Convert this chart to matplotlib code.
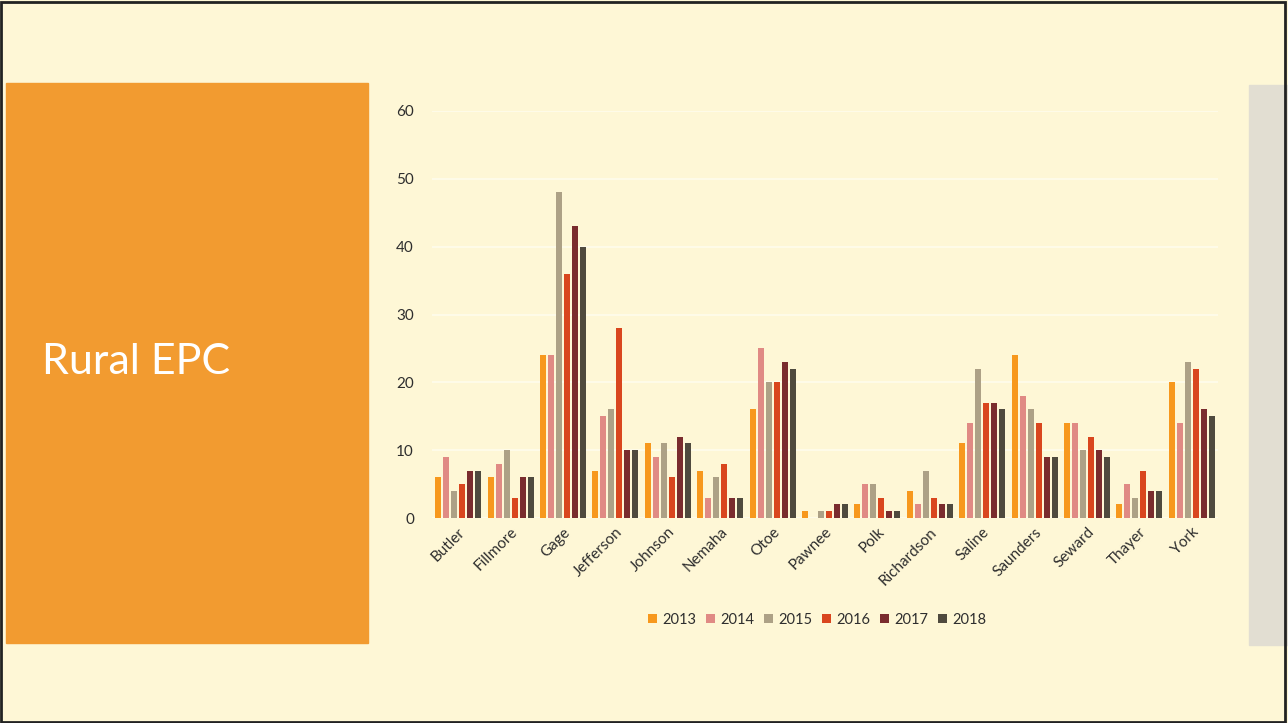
import matplotlib.pyplot as plt
import numpy as np
from matplotlib.patches import Rectangle

counties = ["Butler", "Fillmore", "Gage", "Jefferson", "Johnson", "Nemaha", "Otoe",
            "Pawnee", "Polk", "Richardson", "Saline", "Saunders", "Seward", "Thayer", "York"]
years = ["2013", "2014", "2015", "2016", "2017", "2018"]

v2013 = [6, 6, 24, 7, 11, 7, 16, 1, 2, 4, 11, 24, 14, 2, 20]
v2014 = [9, 8, 24, 15, 9, 3, 25, 0, 5, 2, 14, 18, 14, 5, 14]
v2015 = [4, 10, 48, 16, 11, 6, 20, 1, 5, 7, 22, 16, 10, 3, 23]
v2016 = [5, 3, 36, 28, 6, 8, 20, 1, 3, 3, 17, 14, 12, 7, 22]
v2017 = [7, 6, 43, 10, 12, 3, 23, 2, 1, 2, 17, 9, 10, 4, 16]
v2018 = [7, 6, 40, 10, 11, 3, 22, 2, 1, 2, 16, 9, 9, 4, 15]
series = [v2013, v2014, v2015, v2016, v2017, v2018]

colors = ["#F7981D", "#E08A84", "#ADA186", "#D9461E", "#7A2C2E", "#4F4A3E"]
bg = "#FEF7D6"

plt.rcParams['font.family'] = ['Lato', 'DejaVu Sans']

fig = plt.figure(figsize=(12.88, 7.23), dpi=100)
fig.patch.set_facecolor(bg)

# slide decorations
fig.patches.append(Rectangle((6 / 1288, 1 - 643 / 723), 362 / 1288, 560 / 723,
                             transform=fig.transFigure, color="#F29B30", zorder=0))
fig.patches.append(Rectangle((1249 / 1288, 1 - 645 / 723), 39 / 1288, 560 / 723,
                             transform=fig.transFigure, color="#E2DED2", zorder=0))
fig.patches.append(Rectangle((0.001, 0.002), 0.997, 0.995, transform=fig.transFigure,
                             fill=False, edgecolor="#222222", lw=2, zorder=5))
fig.text(42 / 1288, 1 - 362 / 723, "Rural EPC", color="white", fontsize=31,
         va="center", ha="left")

ax = fig.add_axes([432 / 1288, 205 / 723, 786 / 1288, 407 / 723])
ax.set_facecolor(bg)

x = np.arange(len(counties))
pitch = 0.153
width = 0.115
for i, (vals, yr) in enumerate(zip(series, years)):
    ax.bar(x + (i - 2.5) * pitch, vals, width=width, color=colors[i], label=yr, zorder=3)

ax.set_xlim(-0.5, len(counties) - 0.5)
ax.set_ylim(0, 60)
ax.set_yticks(range(0, 61, 10))
ax.yaxis.grid(True, color="#FFFCEC", lw=1.2, zorder=0)
ax.set_axisbelow(True)
for s in ax.spines.values():
    s.set_visible(False)
ax.tick_params(axis="both", length=0, labelsize=11, colors="#2E2E2E")
ax.tick_params(axis="y", pad=13)
ax.tick_params(axis="x", pad=5)
ax.set_xticks(x)
ax.set_xticklabels(counties, rotation=45, ha="right", rotation_mode="anchor")

ax.legend(loc="upper center", bbox_to_anchor=(0.49, -0.2), ncol=6, frameon=False,
          fontsize=10.5, handlelength=0.6, handleheight=0.6, handletextpad=0.35,
          columnspacing=0.7, labelcolor="#2E2E2E")

fig.savefig("out.png", dpi=100, facecolor=bg)
